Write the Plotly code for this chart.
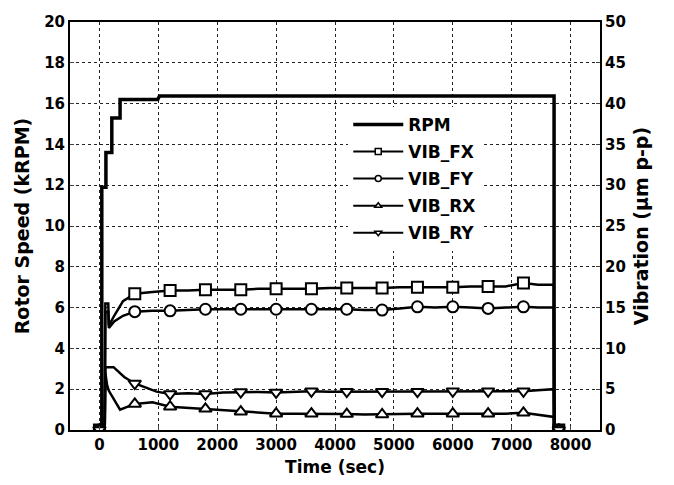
import plotly.graph_objects as go

# ---------------- data ----------------
rpm_time = [0, 40, 40, 110, 110, 210, 210, 350, 350, 990, 1020, 7720, 7720, 7800]
rpm_krpm = [0, 0, 11.9, 11.9, 13.6, 13.6, 15.3, 15.3, 16.2, 16.2, 16.37, 16.37, 0, 0]

fx_time = [0, 90, 100, 150, 160, 250, 400, 600, 900, 1200, 1500, 1800, 2100, 2400, 2700, 3000, 3300, 3600,
           3900, 4200, 4500, 4800, 5100, 5400, 5700, 6000, 6300, 6600, 6900, 7200, 7450, 7715, 7725, 7800]
fx_um = [0, 0, 15.5, 15.5, 12.8, 14.0, 15.8, 16.7, 16.9, 17.1, 17.1, 17.2, 17.2, 17.2, 17.3, 17.3, 17.3, 17.3,
         17.4, 17.4, 17.4, 17.4, 17.5, 17.5, 17.5, 17.5, 17.6, 17.6, 17.6, 18.0, 17.8, 17.8, 0, 0]

fy_time = [0, 90, 100, 150, 160, 250, 400, 600, 900, 1200, 1500, 1800, 2100, 2400, 2700, 3000, 3300, 3600,
           3900, 4200, 4500, 4800, 5100, 5400, 5700, 6000, 6300, 6600, 6900, 7200, 7450, 7715, 7725, 7800]
fy_um = [0, 0, 14.5, 14.5, 12.5, 13.3, 14.0, 14.5, 14.6, 14.6, 14.7, 14.8, 14.8, 14.8, 14.8, 14.8, 14.8, 14.8,
         14.8, 14.8, 14.7, 14.7, 14.9, 15.1, 15.0, 15.1, 15.0, 14.9, 15.0, 15.1, 15.0, 15.0, 0, 0]

rx_time = [0, 90, 100, 130, 160, 350, 600, 900, 1200, 1500, 1800, 2100, 2400, 2700, 3000, 3300, 3600,
           3900, 4200, 4500, 4800, 5100, 5400, 5700, 6000, 6300, 6600, 6900, 7200, 7500, 7715, 7725, 7800]
rx_um = [0, 0, 7.0, 5.5, 4.8, 2.5, 3.2, 3.4, 2.85, 2.7, 2.6, 2.4, 2.25, 2.1, 2.0, 2.0, 2.0,
         1.95, 1.95, 1.9, 1.9, 1.95, 2.0, 2.0, 2.0, 2.0, 2.0, 2.0, 2.1, 1.8, 1.6, 0, 0]

ry_time = [0, 90, 100, 240, 420, 600, 970, 1200, 1500, 1800, 2100, 2400, 2700, 3000, 3300, 3600,
           3900, 4200, 4500, 4800, 5100, 5400, 5700, 6000, 6300, 6600, 6900, 7200, 7500, 7715, 7725, 7800]
ry_um = [0, 0, 7.7, 7.7, 6.5, 5.7, 4.7, 4.4, 4.5, 4.4, 4.6, 4.65, 4.65, 4.6, 4.7, 4.75,
         4.7, 4.7, 4.7, 4.7, 4.7, 4.7, 4.75, 4.75, 4.75, 4.75, 4.75, 4.75, 4.9, 5.0, 0, 0]

marker_interval = 600  # markers drawn at every multiple of this time

x_ticks = [0, 1000, 2000, 3000, 4000, 5000, 6000, 7000, 8000]
left_ticks = [0, 2, 4, 6, 8, 10, 12, 14, 16, 18, 20]
right_ticks = [0, 5, 10, 15, 20, 25, 30, 35, 40, 45, 50]

# ---------------- figure ----------------
FONT = "DejaVu Sans"
fig = go.Figure()

fig.add_trace(go.Scatter(x=rpm_time, y=rpm_krpm, mode="lines", name="RPM",
                         line=dict(color="black", width=3.5), yaxis="y", legendgroup="a"))

series = [
    ("VIB_FX", fx_time, fx_um, "square", "b"),
    ("VIB_FY", fy_time, fy_um, "circle", "c"),
    ("VIB_RX", rx_time, rx_um, "triangle-up", "d"),
    ("VIB_RY", ry_time, ry_um, "triangle-down", "e"),
]
for name, t, v, sym, grp in series:
    fig.add_trace(go.Scatter(x=t, y=v, mode="lines", showlegend=False, yaxis="y2",
                             line=dict(color="black", width=2.5), hoverinfo="skip"))
    mt = [ti for ti in t if ti % marker_interval == 0]
    mv = [vi for ti, vi in zip(t, v) if ti % marker_interval == 0]
    fig.add_trace(go.Scatter(x=mt, y=mv, mode="markers", showlegend=False, yaxis="y2",
                             marker=dict(symbol=sym, size=11, color="white",
                                         line=dict(color="black", width=2))))
    fig.add_trace(go.Scatter(x=[None], y=[None], mode="lines+markers", name=name, yaxis="y2",
                             legendgroup=grp,
                             line=dict(color="black", width=2),
                             marker=dict(symbol=sym, size=6, color="white",
                                         line=dict(color="black", width=1.5))))

tickfont = dict(family=FONT, size=15, color="black", weight="bold")
titlefont = dict(family=FONT, size=17, color="black", weight="bold")
grid = dict(showgrid=True, gridcolor="#222", griddash="dot", gridwidth=1)

fig.update_layout(
    width=674, height=485, autosize=False,
    margin=dict(l=70, r=74, t=22, b=55),
    paper_bgcolor="white", plot_bgcolor="white",
    showlegend=True,
    legend=dict(x=0.525, y=0.792, xanchor="left", yanchor="top", bgcolor="white",
                borderwidth=0, font=dict(family=FONT, size=17, color="black", weight="bold"),
                itemwidth=50, traceorder="grouped", tracegroupgap=2),
    xaxis=dict(range=[-500, 8500], tickvals=x_ticks, ticks="inside", ticklen=4,
               showline=True, linecolor="black", linewidth=2, mirror=True, zeroline=False,
               tickfont=tickfont, title=dict(text="Time (sec)", font=titlefont, standoff=8), **grid),
    yaxis=dict(range=[0, 20], tickvals=left_ticks, ticks="inside", ticklen=4,
               showline=True, linecolor="black", linewidth=2, mirror=True, zeroline=False,
               tickfont=tickfont,
               title=dict(text="Rotor Speed (kRPM)", font=dict(family=FONT, size=19, color="black", weight="bold"), standoff=9),
               **grid),
    yaxis2=dict(range=[0, 50], tickvals=right_ticks, overlaying="y", side="right",
                ticks="inside", ticklen=4, showgrid=False, zeroline=False,
                showline=True, linecolor="black", linewidth=2,
                tickfont=tickfont,
                title=dict(text="Vibration (µm p-p)", font=dict(family=FONT, size=19, color="black", weight="bold"), standoff=10)),
)

fig.write_html("out.html")
